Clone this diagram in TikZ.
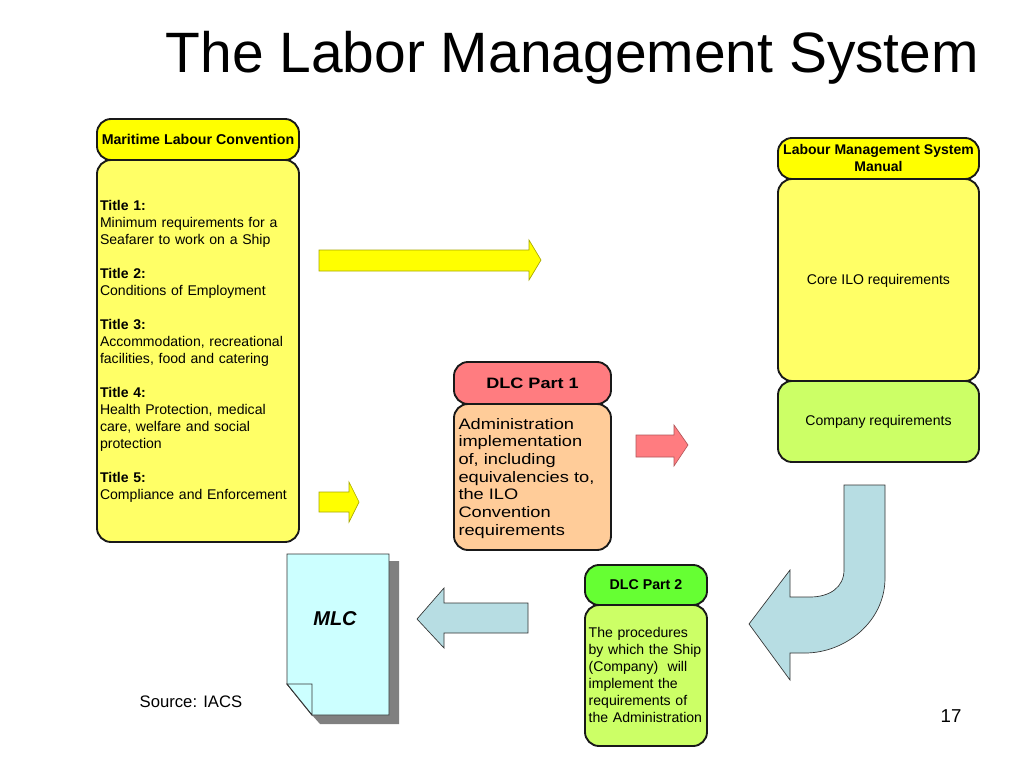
\documentclass[tikz,border=0pt]{standalone}
\usepackage{fontspec}
\setmainfont{Liberation Sans}
\newfontfamily\widefont[FakeStretch=1.2]{Liberation Sans}
\definecolor{hyellow}{HTML}{FFFF00}
\definecolor{byellow}{HTML}{FFFF66}
\definecolor{lime}{HTML}{CCFF66}
\definecolor{hgreen}{HTML}{66FF33}
\definecolor{hred}{HTML}{FF7C80}
\definecolor{peach}{HTML}{FFCC99}
\definecolor{pale}{HTML}{B7DDE3}
\definecolor{paper}{HTML}{CCFFFF}
\definecolor{olive}{HTML}{A8A800}
\tikzset{
  panel/.style={draw=black!90,line width=1.4pt,rounded corners=10.5pt,outer sep=0pt,inner sep=0pt,align=center,
     font=\fontsize{10.55}{12.75}\selectfont},
  hb/.style={panel,font=\fontsize{10.65}{12.75}\selectfont\bfseries},
  leftbody/.style={panel,align=left,text width=#1},
  blockarrow/.style={line width=0.5pt,line join=miter},
  docline/.style={line width=0.7pt,draw=black!80,fill=paper,line join=miter},
}
\newcommand{\gap}{\\[12.75pt]}
\begin{document}
\begin{tikzpicture}[x=0.75pt,y=-0.75pt]
\useasboundingbox[fill=white] (0,0) rectangle (1024,768);
\node[anchor=west,font=\fontsize{42.7}{50}\selectfont] (title) at (161,58) {The Labor Management System};
% left column
\node[leftbody=147pt,minimum width=151.5pt,minimum height=286.5pt,fill=byellow] (mbody) at (198,351)
{\textbf{Title 1:}\\Minimum requirements for a\\Seafarer to work on a Ship\gap
\textbf{Title 2:}\\Conditions of Employment\gap
\textbf{Title 3:}\\Accommodation, recreational\\facilities, food and catering\gap
\textbf{Title 4:}\\Health Protection, medical\\care, welfare and social\\protection\gap
\textbf{Title 5:}\\Compliance and Enforcement};
\node[hb,minimum width=151.5pt,minimum height=30.75pt,fill=hyellow] (mhead) at (198,139.5) {Maritime Labour Convention};
% right column
\node[panel,minimum width=150.75pt,minimum height=151.5pt,fill=byellow] (core) at (878.5,280) {\rule{0pt}{9.5pt}Core ILO requirements};
\node[panel,minimum width=150.75pt,minimum height=60.75pt,fill=lime] (comp) at (878.5,421.5) {\rule{0pt}{8pt}Company requirements};
\node[hb,font=\fontsize{10.5}{12.75}\selectfont\bfseries,minimum width=150.75pt,minimum height=30.75pt,fill=hyellow] (lhead) at (878.5,158.5) {Labour Management System\\Manual\rule[-1.5pt]{0pt}{1.5pt}};
% DLC 1
\node[panel,align=left,text width=111pt,minimum width=117.75pt,minimum height=109.5pt,fill=peach,font=\fontsize{11.4}{13.25}\widefont] (d1body) at (532.5,477) {\rule{0pt}{10pt}Administration\\implementation\\of, including\\equivalencies to,\\the ILO\\Convention\\requirements};
\node[panel,minimum width=117.75pt,minimum height=31.5pt,fill=hred,font=\fontsize{11.3}{13}\widefont\bfseries] (d1head) at (532.5,383) {DLC Part 1};
% DLC 2
\node[panel,align=left,text width=86pt,minimum width=91.5pt,minimum height=105.75pt,fill=lime] (d2body) at (646,675.5) {The procedures\\by which the Ship\\(Company)~ will\\implement the\\requirements of\\the Administration\rule[-1.5pt]{0pt}{1.5pt}};
\node[hb,minimum width=91.5pt,minimum height=30pt,fill=hgreen] (d2head) at (646,585) {DLC Part 2};
% block arrows
\draw[blockarrow,draw=olive,fill=hyellow] (319,250)--(529,250)--(529,240)--(541,260)--(529,280)--(529,271)--(319,271)--cycle;
\draw[blockarrow,draw=olive,fill=hyellow] (319,492)--(349,492)--(349,482)--(359,502)--(349,522)--(349,512)--(319,512)--cycle;
\draw[blockarrow,draw=hred!70!black,fill=hred] (636,435)--(674,435)--(674,425)--(688,445)--(674,466)--(674,457)--(636,457)--cycle;
\draw[blockarrow,draw=black!80,fill=pale] (417,619)--(444,588)--(444,603)--(528,603)--(528,633)--(444,633)--(444,648)--cycle;
\draw[blockarrow,draw=black!80,fill=pale] (844,485)--(885,485)--(885,578) .. controls (885,622) and (845,653) .. (805,653)--(790,653)--(790,680)--(749,624)--(790,570)--(790,597)--(810,597) .. controls (830,597) and (844,587) .. (844,570)--cycle;
% document
\fill[black!50] (389,561)--(399,561)--(399,724)--(320,724)--(312,715)--(389,715)--cycle;
\draw[docline] (287,554)--(389,554)--(389,715)--(312,715)--(287,684)--cycle;
\draw[docline] (287,684)--(312,684)--(312,715)--cycle;
\node[font=\fontsize{15}{17}\selectfont\bfseries\itshape] (mlc) at (335,619) {MLC};
\node[font=\fontsize{12.5}{14}\selectfont,anchor=west] (src) at (135,701.5) {Source: IACS};
\node[font=\fontsize{14}{16}\selectfont] (num) at (951,716) {17};
\end{tikzpicture}
\end{document}
